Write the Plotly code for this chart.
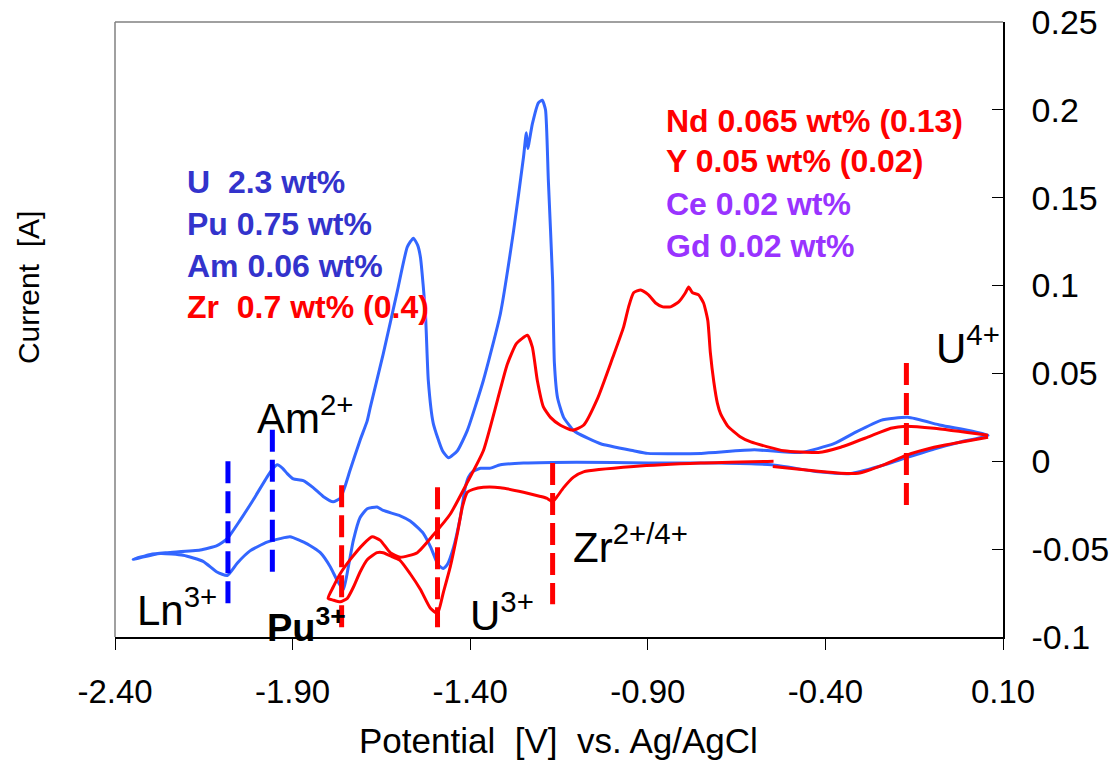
import plotly.graph_objects as go

# ---------------- data ----------------
# Blue CV (U, Pu, Am): cathodic sweep then anodic sweep
blue_v = [0.058, -0.02, -0.094, -0.173, -0.25, -0.328, -0.42, -0.551, -0.70, -0.898, -1.10, -1.25,
          -1.315, -1.345, -1.371, -1.394, -1.405, -1.414, -1.428, -1.447, -1.465, -1.476, -1.49,
          -1.511, -1.532, -1.549, -1.569, -1.597, -1.645, -1.662, -1.69, -1.71, -1.729, -1.743,
          -1.757, -1.774, -1.794, -1.822, -1.859, -1.907, -1.935, -1.972, -2.02, -2.056, -2.084,
          -2.113, -2.152, -2.208, -2.273, -2.349,
          -2.30, -2.253, -2.16, -2.113, -2.084, -2.048, -2.011, -1.972, -1.955, -1.943, -1.928,
          -1.915, -1.898, -1.87, -1.842, -1.814, -1.786, -1.766, -1.752, -1.738, -1.71, -1.69,
          -1.681, -1.645, -1.605, -1.577, -1.56, -1.548, -1.54, -1.526, -1.518, -1.504, -1.478,
          -1.461, -1.436, -1.408, -1.363, -1.315, -1.278, -1.25, -1.242, -1.238, -1.225, -1.208,
          -1.197, -1.188, -1.18, -1.168, -1.163, -1.154, -1.137, -1.109, -1.098, -1.033, -0.94,
          -0.90, -0.75, -0.60, -0.47, -0.376, -0.32, -0.244, -0.168, -0.075, 0.058]
blue_i = [0.0148, 0.011, 0.007, 0.002, -0.003, -0.007, -0.006, -0.002, -0.001, -0.001, -0.0005, -0.001,
          -0.002, -0.004, -0.004, -0.006, -0.009, -0.015, -0.032, -0.049, -0.059, -0.061, -0.059,
          -0.049, -0.041, -0.0375, -0.034, -0.031, -0.028, -0.026, -0.027, -0.032, -0.045, -0.060,
          -0.073, -0.068, -0.060, -0.052, -0.047, -0.043, -0.044, -0.046, -0.051, -0.058, -0.065,
          -0.063, -0.057, -0.0535, -0.0525, -0.0558,
          -0.053, -0.052, -0.0505, -0.048, -0.044, -0.0336, -0.022, -0.009, -0.004, -0.002, -0.004,
          -0.007, -0.010, -0.011, -0.015, -0.020, -0.023, -0.021, -0.014, -0.005, 0.012, 0.023,
          0.031, 0.061, 0.097, 0.122, 0.127, 0.123, 0.116, 0.084, 0.046, 0.0216, 0.006,
          0.002, 0.006, 0.0176, 0.046, 0.084, 0.131, 0.173, 0.187, 0.178, 0.192, 0.204,
          0.2055, 0.200, 0.160, 0.103, 0.056, 0.036, 0.025, 0.0176, 0.016, 0.010, 0.006,
          0.0045, 0.0045, 0.0065, 0.005, 0.010, 0.016, 0.0233, 0.025, 0.0205, 0.0148]

# Red CV (Zr, Nd, Y): cathodic sweep (with a data gap) then anodic sweep
red_v = [0.058, -0.094, -0.173, -0.236, -0.308, -0.357, -0.42, -0.548, None,
         -0.546, -0.751, -0.94, -1.081, -1.109, -1.137, -1.155, -1.168, -1.185, -1.202, -1.25,
         -1.315, -1.363, -1.392, -1.408, -1.422, -1.436, -1.456, -1.476, -1.492, -1.512, -1.54,
         -1.569, -1.597, -1.617, -1.645, -1.662, -1.69, -1.71, -1.729, -1.746, -1.766, -1.786,
         -1.80,
         -1.786, -1.766, -1.738, -1.70, -1.676, -1.653, -1.625, -1.597, -1.549, -1.504, -1.456,
         -1.408, -1.363, -1.323, -1.296, -1.27, -1.239, -1.225, -1.211, -1.194, -1.174, -1.146,
         -1.112, -1.081, -1.041, -0.999, -0.968, -0.954, -0.94, -0.92, -0.898, -0.878, -0.858,
         -0.836, -0.813, -0.794, -0.785, -0.774, -0.757, -0.743, -0.731, -0.724, -0.714, -0.704,
         -0.695, -0.675, -0.64, -0.61, -0.517, -0.42, -0.357, -0.281, -0.216, -0.173, -0.094,
         0.058]
red_i = [0.0137, 0.008, 0.0034, -0.002, -0.0068, -0.0068, -0.0057, -0.003, None,
         0.0, -0.001, -0.003, -0.006, -0.009, -0.015, -0.020, -0.023, -0.021, -0.020, -0.0176,
         -0.015, -0.0148, -0.016, -0.0176, -0.026, -0.041, -0.060, -0.075, -0.0866, -0.0837, -0.073,
         -0.064, -0.0565, -0.0546, -0.052, -0.052, -0.056, -0.063, -0.0717, -0.078, -0.080, -0.079,
         -0.078,
         -0.0717, -0.064, -0.056, -0.047, -0.043, -0.045, -0.052, -0.0546, -0.052, -0.042, -0.030,
         -0.012, 0.006, 0.035, 0.055, 0.067, 0.0717, 0.065, 0.046, 0.031, 0.025, 0.0205,
         0.0176, 0.0205, 0.036, 0.0589, 0.0765, 0.0879, 0.0959, 0.0975, 0.0947, 0.0901, 0.0879,
         0.0879, 0.0907, 0.0959, 0.0992, 0.0959, 0.0947, 0.0901, 0.080, 0.062, 0.045, 0.033,
         0.027, 0.020, 0.014, 0.011, 0.006, 0.005, 0.008, 0.0137, 0.0188, 0.020, 0.0188,
         0.0148]

# Marker lines (potential, bottom current, top current)
blue_mark_v = [-2.082, -1.957]
blue_mark_lo = [-0.082, -0.064]
blue_mark_hi = [0.0, 0.018]
red_mark_v = [-1.762, -1.492, -1.168, -0.172]
red_mark_lo = [-0.0945, -0.0945, -0.0814, -0.025]
red_mark_hi = [-0.0137, -0.0148, -0.001, 0.056]

x_ticks = [-2.4, -1.9, -1.4, -0.9, -0.4, 0.1]
x_tick_text = ["-2.40", "-1.90", "-1.40", "-0.90", "-0.40", "0.10"]
y_ticks = [-0.1, -0.05, 0, 0.05, 0.1, 0.15, 0.2, 0.25]
y_tick_text = ["-0.1", "-0.05", "0", "0.05", "0.1", "0.15", "0.2", "0.25"]

NB = "\u00a0"
comp_left = ["U" + NB * 2 + "2.3 wt%", "Pu 0.75 wt%", "Am 0.06 wt%", "Zr" + NB * 2 + "0.7 wt% (0.4)"]
comp_left_colors = ["#3333CC", "#3333CC", "#3333CC", "#FF0000"]
comp_left_y = [0.159, 0.135, 0.1111, 0.0878]
comp_right = ["Nd 0.065 wt% (0.13)", "Y 0.05 wt% (0.02)", "Ce 0.02 wt%", "Gd 0.02 wt%"]
comp_right_colors = ["#FF0000", "#FF0000", "#9933FF", "#9933FF"]
comp_right_y = [0.1937, 0.1709, 0.1465, 0.1226]

ion_labels = ["Am<sup>2+</sup>", "Ln<sup>3+</sup>", "<b>Pu<sup>3+</sup></b>", "U<sup>3+</sup>",
              "Zr<sup>2+/4+</sup>", "U<sup>4+</sup>"]
ion_x = [-2.0054, -2.3436, -1.977, -1.405, -1.1176, -0.0945]
ion_y = [0.0264, -0.0829, -0.0932, -0.0858, -0.0471, 0.0662]
ion_size = [42, 42, 38, 42, 42, 42]

FONT = "Liberation Sans, Arial, sans-serif"

fig = go.Figure()
fig.add_trace(go.Scatter(x=blue_v, y=blue_i, mode="lines",
                         line=dict(color="#3366FF", width=3, shape="spline", smoothing=0.5),
                         showlegend=False, hoverinfo="skip"))
fig.add_trace(go.Scatter(x=red_v, y=red_i, mode="lines", connectgaps=False,
                         line=dict(color="#FF0000", width=3, shape="spline", smoothing=0.5),
                         showlegend=False, hoverinfo="skip"))

for v, lo, hi in zip(blue_mark_v, blue_mark_lo, blue_mark_hi):
    fig.add_trace(go.Scatter(x=[v, v], y=[hi, lo], mode="lines",
                             line=dict(color="#0000FF", width=5, dash="22px,8px"),
                             showlegend=False, hoverinfo="skip"))
for v, lo, hi in zip(red_mark_v, red_mark_lo, red_mark_hi):
    fig.add_trace(go.Scatter(x=[v, v], y=[hi, lo], mode="lines",
                             line=dict(color="#FF0000", width=5, dash="22px,8px"),
                             showlegend=False, hoverinfo="skip"))

annotations = []
for t, c, y in zip(comp_left, comp_left_colors, comp_left_y):
    annotations.append(dict(x=-2.2027, y=y, xref="x", yref="y", text="<b>" + t + "</b>",
                            showarrow=False, xanchor="left", yanchor="middle",
                            font=dict(family=FONT, size=32, color=c)))
for t, c, y in zip(comp_right, comp_right_colors, comp_right_y):
    annotations.append(dict(x=-0.8555, y=y, xref="x", yref="y", text="<b>" + t + "</b>",
                            showarrow=False, xanchor="left", yanchor="middle",
                            font=dict(family=FONT, size=32, color=c)))
for t, x, y, s in zip(ion_labels, ion_x, ion_y, ion_size):
    annotations.append(dict(x=x, y=y, xref="x", yref="y", text=t, showarrow=False,
                            xanchor="left", yanchor="middle",
                            font=dict(family=FONT, size=s, color="black")))

annotations.append(dict(x=-0.098, y=0.569, xref="paper", yref="paper",
                        text="Current" + NB * 2 + "[A]", textangle=-90, showarrow=False,
                        xanchor="center", yanchor="middle",
                        font=dict(family=FONT, size=30, color="black")))
annotations.append(dict(x=0.499, y=-0.1675, xref="paper", yref="paper",
                        text="Potential" + NB * 2 + "[V]" + NB * 2 + "vs. Ag/AgCl", showarrow=False,
                        xanchor="center", yanchor="middle",
                        font=dict(family=FONT, size=35, color="black")))

# The page adds an 8px body margin: the figure is 8px smaller, top/left margins shifted.
fig.update_layout(
    width=1109, height=753,
    margin=dict(l=107, r=114, t=14, b=124, pad=0, autoexpand=False),
    paper_bgcolor="white", plot_bgcolor="white",
    annotations=annotations,
    shapes=[
        dict(type="line", xref="paper", yref="paper", x0=0, x1=1, y0=1, y1=1,
             line=dict(color="#808080", width=1.5)),
        dict(type="line", xref="paper", yref="paper", x0=0, x1=0, y0=0, y1=1,
             line=dict(color="#808080", width=1.5)),
    ],
    xaxis=dict(range=[-2.4, 0.1], tickvals=x_ticks, ticktext=x_tick_text,
               ticks="outside", ticklen=11, tickcolor="black", tickwidth=1,
               showline=True, linecolor="black", linewidth=1.5, automargin=False,
               showgrid=False, zeroline=False, ticklabelstandoff=14,
               ticklabeloverflow="allow",
               tickfont=dict(family=FONT, size=33, color="black")),
    yaxis=dict(range=[-0.1, 0.25], side="right", tickvals=y_ticks, ticktext=y_tick_text,
               ticks="inside", ticklen=11, tickcolor="black", tickwidth=1,
               showline=True, linecolor="black", linewidth=1.5, automargin=False,
               showgrid=False, zeroline=False, ticklabelstandoff=20,
               ticklabeloverflow="allow",
               tickfont=dict(family=FONT, size=34, color="black")),
)

fig.write_html("out.html")
